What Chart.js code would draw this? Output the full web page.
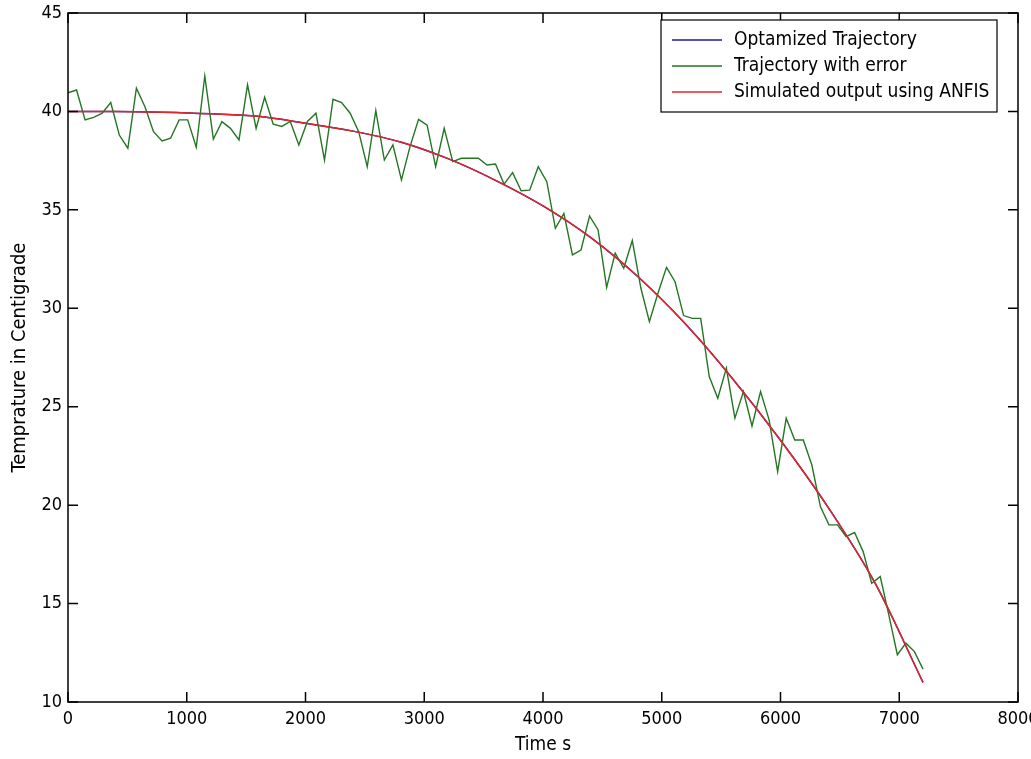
<!DOCTYPE html>
<html><head><meta charset="utf-8">
<script src="https://cdn.jsdelivr.net/npm/chart.js@4.4.1/dist/chart.umd.min.js"></script>
<style>html,body{margin:0;padding:0;background:#fff;overflow:hidden}</style>
</head><body>
<canvas id="c" width="1031" height="759"></canvas>
<script>
// ---- data ----
const timeError = [0,72,144,216,288,360,432,504,576,648,720,792,864,936,1008,1080,1152,1224,1296,1368,1440,1512,1584,1656,1728,1800,1872,1944,2016,2088,2160,2232,2304,2376,2448,2520,2592,2664,2736,2808,2880,2952,3024,3096,3168,3240,3312,3384,3456,3528,3600,3672,3744,3816,3888,3960,4032,4104,4176,4248,4320,4392,4464,4536,4608,4680,4752,4824,4896,4968,5040,5112,5184,5256,5328,5400,5472,5544,5616,5688,5760,5832,5904,5976,6048,6120,6192,6264,6336,6408,6480,6552,6624,6696,6768,6840,6912,6984,7056,7128,7200];
const trajectoryWithError = [40.95,41.09,39.57,39.70,39.91,40.45,38.80,38.13,41.18,40.24,38.97,38.50,38.64,39.57,39.57,38.18,41.80,38.59,39.48,39.14,38.55,41.35,39.14,40.72,39.35,39.24,39.49,38.30,39.49,39.91,37.53,40.62,40.45,39.91,38.97,37.19,40.04,37.53,38.30,36.52,38.21,39.60,39.30,37.19,39.14,37.45,37.62,37.62,37.62,37.28,37.33,36.31,36.89,35.97,36.00,37.19,36.43,34.06,34.82,32.71,32.96,34.69,33.98,31.06,32.80,32.03,33.44,31.03,29.32,30.76,32.08,31.35,29.63,29.49,29.49,26.53,25.43,26.96,24.42,25.77,24.02,25.77,24.33,21.70,24.42,23.31,23.31,22.04,19.93,19.00,19.00,18.40,18.61,17.64,16.03,16.37,14.43,12.40,12.99,12.56,11.67];
const timeSmooth = [0,400,800,1200,1600,2000,2400,2800,3200,3600,4000,4400,4800,5200,5600,6000,6400,6800,7200];
const optimizedTrajectory = [40.0,40.0,39.96,39.88,39.75,39.4,39.0,38.45,37.6,36.5,35.2,33.6,31.6,29.2,26.4,23.3,19.9,16.0,11.0];
const anfisOutput = [40.0,40.0,39.96,39.88,39.75,39.4,39.0,38.45,37.6,36.5,35.2,33.6,31.6,29.2,26.4,23.3,19.9,16.0,11.0];
const xTicks = [0,1000,2000,3000,4000,5000,6000,7000,8000];
const yTicks = [10,15,20,25,30,35,40,45];
const seriesLabels = ['Optamized Trajectory','Trajectory with error','Simulated output using ANFIS'];

const FONT = '"Liberation Sans Narrow", "Arial Narrow", "DejaVu Sans Condensed", "Liberation Sans", sans-serif';
const pts = (xs, ys) => xs.map((t, i) => ({x: t, y: ys[i]}));

const frame = {
  id: 'frame',
  afterDatasetsDraw(chart) {
    const {ctx, chartArea: a, scales: {x, y}} = chart;
    ctx.save();
    ctx.strokeStyle = '#000';
    ctx.lineWidth = 1.5;
    ctx.strokeRect(a.left, a.top, a.right - a.left, a.bottom - a.top);
    ctx.beginPath();
    xTicks.forEach(v => {
      const p = x.getPixelForValue(v);
      ctx.moveTo(p, a.bottom); ctx.lineTo(p, a.bottom - 10);
      ctx.moveTo(p, a.top); ctx.lineTo(p, a.top + 10);
    });
    yTicks.forEach(v => {
      const p = y.getPixelForValue(v);
      ctx.moveTo(a.left, p); ctx.lineTo(a.left + 10, p);
      ctx.moveTo(a.right, p); ctx.lineTo(a.right - 10, p);
    });
    ctx.stroke();
    // legend box
    const lx = 661, ly = 20, lw = 336, lh = 92;
    ctx.fillStyle = '#fff';
    ctx.fillRect(lx, ly, lw, lh);
    ctx.lineWidth = 1.2;
    ctx.strokeRect(lx, ly, lw, lh);
    ctx.font = '19px ' + FONT;
    ctx.textBaseline = 'middle';
    ctx.textAlign = 'left';
    seriesLabels.forEach((lab, i) => {
      const ds = chart.data.datasets[i];
      const yy = ly + 20 + i * 26;
      ctx.strokeStyle = ds.borderColor;
      ctx.lineWidth = 1.5;
      ctx.beginPath(); ctx.moveTo(lx + 11, yy); ctx.lineTo(lx + 61, yy); ctx.stroke();
      ctx.fillStyle = '#000';
      ctx.fillText(lab, lx + 73, yy);
    });
    ctx.restore();
  }
};

new Chart(document.getElementById('c'), {
  type: 'line',
  data: {
    datasets: [
      {label: seriesLabels[0], data: pts(timeSmooth, optimizedTrajectory), borderColor: '#1c1c9c', borderWidth: 1.5, pointRadius: 0, cubicInterpolationMode: 'monotone', order: 2},
      {label: seriesLabels[1], data: pts(timeError, trajectoryWithError), borderColor: '#247524', borderWidth: 1.4, pointRadius: 0, tension: 0, order: 1},
      {label: seriesLabels[2], data: pts(timeSmooth, anfisOutput), borderColor: '#e0262a', borderWidth: 1.5, pointRadius: 0, cubicInterpolationMode: 'monotone', order: 0}
    ]
  },
  options: {
    responsive: false,
    animation: false,
    devicePixelRatio: 1,
    layout: {padding: {left: 0, right: 13, top: 13, bottom: 0}},
    plugins: {legend: {display: false}, tooltip: {enabled: false}},
    scales: {
      x: {
        type: 'linear', min: 0, max: 8000,
        grid: {display: false, drawTicks: false},
        border: {display: false},
        afterBuildTicks: s => { s.ticks = xTicks.map(v => ({value: v})); },
        ticks: {color: '#000', font: {family: FONT, size: 18}, padding: 7, maxRotation: 0, autoSkip: false, callback: v => String(v)},
        title: {display: true, text: 'Time s', color: '#000', font: {family: FONT, size: 19}, padding: {top: 0, bottom: 3}},
        afterFit: s => { s.height = 57; s.paddingLeft = 0; s.paddingRight = 0; }
      },
      y: {
        type: 'linear', min: 10, max: 45,
        grid: {display: false, drawTicks: false},
        border: {display: false},
        afterBuildTicks: s => { s.ticks = yTicks.map(v => ({value: v})); },
        ticks: {color: '#000', font: {family: FONT, size: 18}, padding: 6, autoSkip: false, callback: v => String(v)},
        title: {display: true, text: 'Temprature in Centigrade', color: '#000', font: {family: FONT, size: 20}, padding: {top: 8, bottom: 0}},
        afterFit: s => { s.width = 68; s.paddingTop = 0; s.paddingBottom = 0; }
      }
    }
  },
  plugins: [frame]
});
</script>
</body></html>
